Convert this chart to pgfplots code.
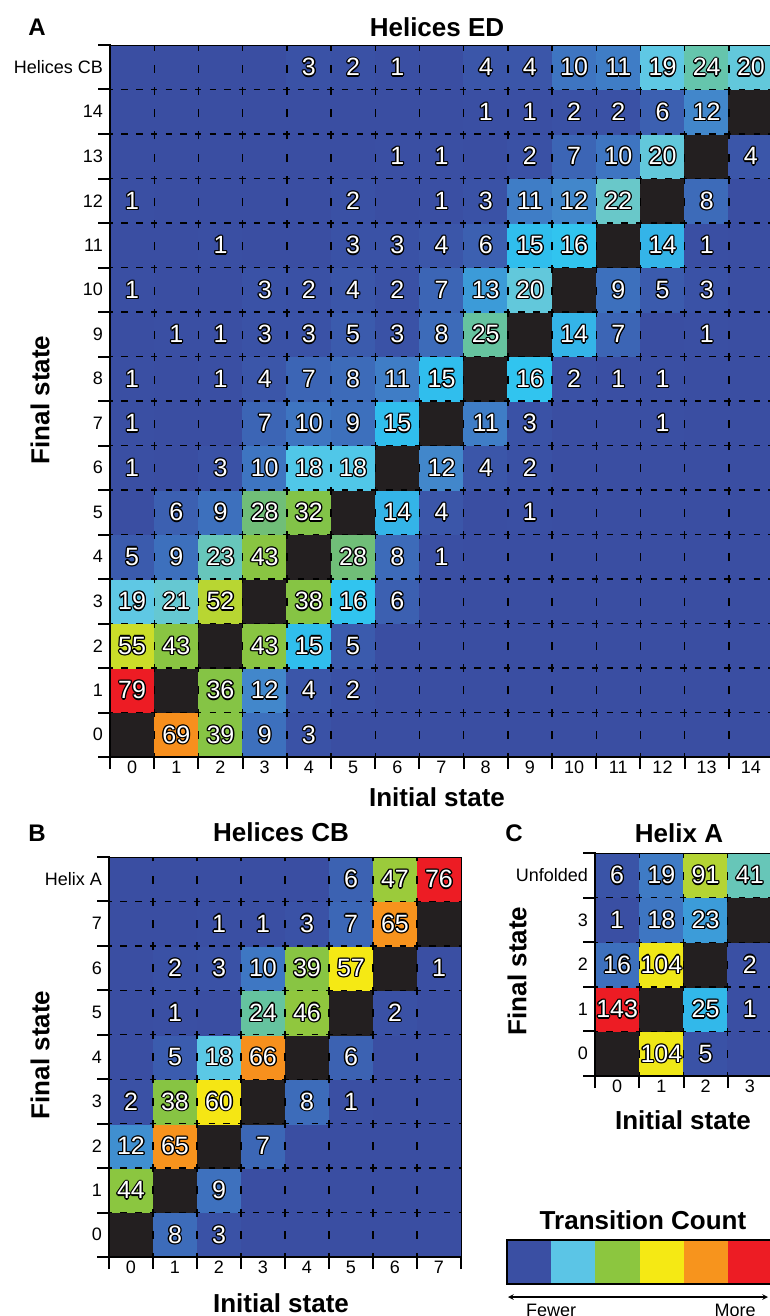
\documentclass[border=0pt]{standalone}
\usepackage{pgfplots}
\pgfplotsset{compat=1.18}
\usepackage{pgfplotstable}
\usepackage{fontspec}
\setmainfont{Liberation Sans}

\definecolor{cb1}{RGB}{58,79,163}
\definecolor{cb2}{RGB}{91,197,230}
\definecolor{cb3}{RGB}{140,198,63}
\definecolor{cb4}{RGB}{245,233,20}
\definecolor{cb5}{RGB}{247,148,29}
\definecolor{cb6}{RGB}{237,28,36}

\newsavebox\olbox
\newcommand\ol[1]{\sbox\olbox{\color{black}#1}%
\rlap{\kern1.3pt\copy\olbox}\rlap{\kern-1.3pt\copy\olbox}%
\rlap{\raise1.3pt\copy\olbox}\rlap{\lower1.3pt\copy\olbox}%
\rlap{\kern0.92pt\raise0.92pt\copy\olbox}\rlap{\kern-0.92pt\raise0.92pt\copy\olbox}%
\rlap{\kern0.92pt\lower0.92pt\copy\olbox}\rlap{\kern-0.92pt\lower0.92pt\copy\olbox}%
\textcolor{white}{#1}}

% Panel A: Helices ED (rows = final state, columns c0..c14 = initial state; -99 = diagonal)
\pgfplotstableread{
y c0 c1 c2 c3 c4 c5 c6 c7 c8 c9 c10 c11 c12 c13 c14
0 -99 69 39 9 3 0 0 0 0 0 0 0 0 0 0
1 79 -99 36 12 4 2 0 0 0 0 0 0 0 0 0
2 55 43 -99 43 15 5 0 0 0 0 0 0 0 0 0
3 19 21 52 -99 38 16 6 0 0 0 0 0 0 0 0
4 5 9 23 43 -99 28 8 1 0 0 0 0 0 0 0
5 0 6 9 28 32 -99 14 4 0 1 0 0 0 0 0
6 1 0 3 10 18 18 -99 12 4 2 0 0 0 0 0
7 1 0 0 7 10 9 15 -99 11 3 0 0 1 0 0
8 1 0 1 4 7 8 11 15 -99 16 2 1 1 0 0
9 0 1 1 3 3 5 3 8 25 -99 14 7 0 1 0
10 1 0 0 3 2 4 2 7 13 20 -99 9 5 3 0
11 0 0 1 0 0 3 3 4 6 15 16 -99 14 1 0
12 1 0 0 0 0 2 0 1 3 11 12 22 -99 8 0
13 0 0 0 0 0 0 1 1 0 2 7 10 20 -99 4
14 0 0 0 0 0 0 0 0 1 1 2 2 6 12 -99
15 0 0 0 0 3 2 1 0 4 4 10 11 19 24 20
}\tA

% Panel B: Helices CB (row 8 = Helix A)
\pgfplotstableread{
y c0 c1 c2 c3 c4 c5 c6 c7
0 -99 8 3 0 0 0 0 0
1 44 -99 9 0 0 0 0 0
2 12 65 -99 7 0 0 0 0
3 2 38 60 -99 8 1 0 0
4 0 5 18 66 -99 6 0 0
5 0 1 0 24 46 -99 2 0
6 0 2 3 10 39 57 -99 1
7 0 0 1 1 3 7 65 -99
8 0 0 0 0 0 6 47 76
}\tB

% Panel C: Helix A (row 4 = Unfolded)
\pgfplotstableread{
y c0 c1 c2 c3
0 -99 104 5 0
1 143 -99 25 1
2 16 104 -99 2
3 1 18 23 -99
4 6 19 91 41
}\tC

\pgfplotsset{
 colormap={hm}{
  rgb255(0cm)=(35,31,32)
  rgb255(4cm)=(35,31,32)
  rgb255(5cm)=(58,78,162)
  rgb255(9cm)=(58,82,166)
  rgb255(13cm)=(60,98,178)
  rgb255(18cm)=(62,118,194)
  rgb255(20.5cm)=(66,137,204)
  rgb255(23cm)=(50,185,235)
  rgb255(25cm)=(46,196,240)
  rgb255(29cm)=(95,200,228)
  rgb255(33cm)=(105,200,200)
  rgb255(36cm)=(100,196,165)
  rgb255(40cm)=(110,190,125)
  rgb255(45cm)=(130,195,72)
  rgb255(65cm)=(140,198,63)
  rgb255(70cm)=(180,212,52)
  rgb255(75cm)=(205,222,40)
  rgb255(80cm)=(245,233,20)
  rgb255(84cm)=(245,230,20)
  rgb255(89cm)=(247,150,29)
  rgb255(94cm)=(247,140,29)
  rgb255(105cm)=(237,28,36)
 },
 hm/.style={
  scale only axis, anchor=south west, enlargelimits=false,
  axis on top, clip marker paths=true,
  tick align=outside,
  xtick pos=left, ytick pos=left,
  major tick length=0pt,
  minor tick length=12pt,
  minor tick style={line width=2pt, black},
  xminorgrids, yminorgrids,
  minor x grid style={black, line width=1.4pt, dash pattern=on 8pt off 14.2pt, dash phase=4pt},
  minor y grid style={black, line width=1.4pt, dash pattern=on 6.5pt off 8.2pt, dash phase=3.25pt},
  extra x tick labels={}, extra y tick labels={},
  extra tick style={grid=none, major tick length=12pt, tick style={line width=2pt, black}},
  axis line style={line width=0.8pt},
  /pgf/number format/assume math mode=true,
  ticklabel style={font=\fontsize{18}{20}\selectfont, inner sep=0pt},
  xticklabel style={yshift=-4pt},
  yticklabel style={xshift=-7pt},
  colormap name=hm,
  extra description/.code={\draw[line width=2.6pt, line cap=rect] (axis description cs:0,1) -- (axis description cs:0,0) -- (axis description cs:1,0);},
 },
 cells/.style={scatter, only marks, mark=square*, mark size=#1,
  scatter/use mapped color={draw=mapped color, fill=mapped color}},
 labs/.style={draw=none, mark=none, unbounded coords=discard,
  point meta=explicit symbolic,
  nodes near coords={\ol{\pgfplotspointmeta}},
  nodes near coords align={anchor=center},
  every node near coord/.append style={font=\fontsize{25}{25}\selectfont, inner sep=0pt}},
}

\begin{document}
\begin{tikzpicture}
\path[use as bounding box] (0pt,0pt) rectangle (769pt,-1316pt);

% ---------- Panel A ----------
\begin{axis}[hm, at={(110pt,-757pt)}, width=663pt, height=712pt,
  xmin=-0.5, xmax=14.5, ymin=-0.5, ymax=15.5,
  xtick={0,...,14}, ytick={0,...,15},
  yticklabels={0,1,2,3,4,5,6,7,8,9,10,11,12,13,14,Helices CB},
  minor xtick={0.5,1.5,...,13.5}, minor ytick={0.5,1.5,...,14.5},
  extra x ticks={-0.5,14.5}, extra y ticks={-0.5,15.5},
  point meta min=-3.95, point meta max=79]
\pgfplotsinvokeforeach{0,...,14}{
 \addplot[cells=22.3pt, point meta=\thisrow{c#1}] table[x expr=#1, y=y]{\tA};
}
\pgfplotsinvokeforeach{0,...,14}{
 \addplot[labs] table[x expr=#1, y expr={\thisrow{c#1}>0 ? \thisrow{y} : nan}, meta=c#1]{\tA};
}
\end{axis}

% ---------- Panel B ----------
\begin{axis}[hm, at={(109pt,-1257pt)}, width=352pt, height=400pt,
  xmin=-0.5, xmax=7.5, ymin=-0.5, ymax=8.5,
  xtick={0,...,7}, ytick={0,...,8},
  yticklabels={0,1,2,3,4,5,6,7,Helix A},
  minor xtick={0.5,1.5,...,6.5}, minor ytick={0.5,1.5,...,7.5},
  extra x ticks={-0.5,7.5}, extra y ticks={-0.5,8.5},
  point meta min=-3.8, point meta max=76]
\pgfplotsinvokeforeach{0,...,7}{
 \addplot[cells=22.25pt, point meta=\thisrow{c#1}] table[x expr=#1, y=y]{\tB};
}
\pgfplotsinvokeforeach{0,...,7}{
 \addplot[labs] table[x expr=#1, y expr={\thisrow{c#1}>0 ? \thisrow{y} : nan}, meta=c#1]{\tB};
}
\end{axis}

% ---------- Panel C ----------
\begin{axis}[hm, at={(595pt,-1076pt)}, width=177pt, height=223pt,
  xmin=-0.5, xmax=3.5, ymin=-0.5, ymax=4.5,
  xtick={0,...,3}, ytick={0,...,4},
  yticklabels={0,1,2,3,Unfolded},
  minor xtick={0.5,1.5,2.5}, minor ytick={0.5,1.5,...,3.5},
  extra x ticks={-0.5,3.5}, extra y ticks={-0.5,4.5},
  point meta min=-7.15, point meta max=140]
\pgfplotsinvokeforeach{0,...,3}{
 \addplot[cells=22.35pt, point meta=\thisrow{c#1}] table[x expr=#1, y=y]{\tC};
}
\pgfplotsinvokeforeach{0,...,3}{
 \addplot[labs] table[x expr=#1, y expr={\thisrow{c#1}>0 ? \thisrow{y} : nan}, meta=c#1]{\tC};
}
\end{axis}

% ---------- Colour key ----------
\begin{axis}[scale only axis, anchor=south west, at={(507pt,-1284pt)}, width=265pt, height=44pt,
  xmin=0, xmax=6, ymin=0, ymax=1, xtick=\empty, ytick=\empty, axis on top,
  axis line style={line width=2pt}]
\addplot[fill=cb1, draw=none] coordinates {(0,0) (1,0) (1,1) (0,1)} -- cycle;
\addplot[fill=cb2, draw=none] coordinates {(1,0) (2,0) (2,1) (1,1)} -- cycle;
\addplot[fill=cb3, draw=none] coordinates {(2,0) (3,0) (3,1) (2,1)} -- cycle;
\addplot[fill=cb4, draw=none] coordinates {(3,0) (4,0) (4,1) (3,1)} -- cycle;
\addplot[fill=cb5, draw=none] coordinates {(4,0) (5,0) (5,1) (4,1)} -- cycle;
\addplot[fill=cb6, draw=none] coordinates {(5,0) (6,0) (6,1) (5,1)} -- cycle;
\end{axis}
\draw[<->, >=stealth, line width=1.5pt] (508pt,-1297pt) -- (768pt,-1297pt);

% ---------- Texts ----------
\tikzset{lbl/.style={font=\bfseries\fontsize{26}{26}\selectfont, inner sep=0pt},
         let/.style={font=\bfseries\fontsize{24}{24}\selectfont, inner sep=0pt}}
\node[let] at (37pt,-27pt) {A};
\node[lbl] at (437pt,-27pt) {Helices ED};
\node[lbl] at (437pt,-797pt) {Initial state};
\node[lbl, rotate=90] at (40pt,-400pt) {Final state};

\node[let] at (37pt,-833pt) {B};
\node[lbl] at (281pt,-832pt) {Helices CB};
\node[lbl] at (281pt,-1303pt) {Initial state};
\node[lbl, rotate=90] at (40pt,-1055pt) {Final state};

\node[let] at (514pt,-833pt) {C};
\node[lbl] at (679pt,-833pt) {Helix A};
\node[lbl] at (683pt,-1120pt) {Initial state};
\node[lbl, rotate=90] at (517pt,-971pt) {Final state};

\node[lbl] at (643pt,-1220pt) {Transition Count};
\node[font=\fontsize{18}{20}\selectfont, inner sep=0pt] at (551pt,-1310pt) {Fewer};
\node[font=\fontsize{18}{20}\selectfont, inner sep=0pt] at (735pt,-1310pt) {More};
\end{tikzpicture}
\end{document}
